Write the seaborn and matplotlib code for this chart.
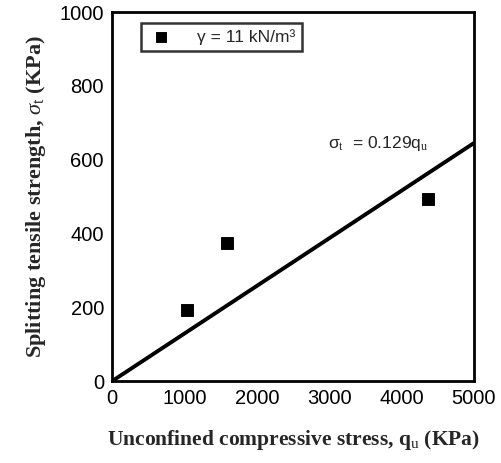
import numpy as np
import pandas as pd
import seaborn as sns
import matplotlib.pyplot as plt

# data
qu = [1040, 1590, 4360]          # unconfined compressive stress (KPa)
sigma_t = [193, 375, 492]        # splitting tensile strength (KPa)
fit_x = [0, 5000]
slope = 0.129
fit_y = [slope * v for v in fit_x]

xticks = [0, 1000, 2000, 3000, 4000, 5000]
yticks = [0, 200, 400, 600, 800, 1000]

sns.set_style("white")
plt.rcParams['font.family'] = ['Liberation Sans', 'DejaVu Sans']
plt.rcParams['mathtext.fontset'] = 'custom'
plt.rcParams['mathtext.rm'] = 'Liberation Serif'
plt.rcParams['mathtext.it'] = 'Liberation Serif:italic'
plt.rcParams['mathtext.bf'] = 'Liberation Serif:bold'

df = pd.DataFrame({"qu": qu, "st": sigma_t})
fit = pd.DataFrame({"x": fit_x, "y": fit_y})

fig, ax = plt.subplots(figsize=(5.01, 4.63), dpi=100)
fig.subplots_adjust(left=0.224, right=0.946, top=0.974, bottom=0.177)

sns.scatterplot(x="qu", y="st", data=df, marker="s", s=70, color="black",
                edgecolor="black", label="\u03b3 = 11 kN/m\u00b3", ax=ax, zorder=3)
sns.lineplot(x="x", y="y", data=fit, color="black", linewidth=2.8, ax=ax)

ax.set_xlim(0, 5000)
ax.set_ylim(0, 1000)
ax.set_xticks(xticks)
ax.set_yticks(yticks)
ax.tick_params(direction="in", length=5, width=1.5, labelsize=14.5, colors="black", pad=6)
for s in ax.spines.values():
    s.set_color("black")
    s.set_linewidth(2)

ax.set_xlabel(r"Unconfined compressive stress, q$_{\rm u}$ (KPa)", family="Liberation Serif",
              fontsize=15.5, fontweight="bold", labelpad=14)
ax.set_ylabel(r"Splitting tensile strength, $\sigma_{\rm t}$ (KPa)", family="Liberation Serif",
              fontsize=16, fontweight="bold", labelpad=8)

ax.text(2980, 645, "\u03c3$_{\\rm t}$  = 0.129q$_{\\rm u}$", fontsize=12.5, ha="left", va="center")

leg = ax.legend(loc="upper left", bbox_to_anchor=(0.055, 0.995), frameon=True, fancybox=False,
                edgecolor="black", fontsize=12.5, handletextpad=1.3, borderpad=0.35,
                handlelength=1.6, markerscale=0.9)
leg.get_frame().set_linewidth(1.8)

plt.savefig("out.png", dpi=100)
